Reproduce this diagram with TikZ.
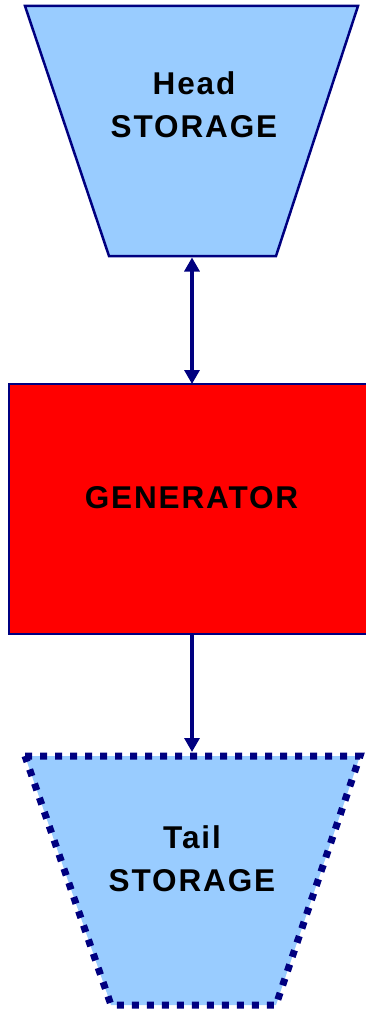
\documentclass[tikz,border=0pt]{standalone}
\usepackage{fontspec}
\usetikzlibrary{arrows.meta}
\newfontfamily\lab[LetterSpace=6]{Liberation Sans}
\definecolor{lblue}{RGB}{153,204,255}
\definecolor{navyb}{RGB}{0,0,128}
\definecolor{genred}{RGB}{255,0,0}
\tikzset{
  trap/.style={fill=lblue, draw=navyb, line width=2.5pt, line join=miter},
  trapdash/.style={fill=lblue, draw=navyb, line width=7pt, dash pattern=on 7pt off 8pt},
  genbox/.style={fill=genred, draw=navyb, line width=2.5pt, rectangle, inner sep=0pt, outer sep=0pt},
  lbl/.style={anchor=base, inner sep=0pt, font=\lab\bfseries\fontsize{31.5}{40}\selectfont, text=black},
  conn/.style={draw=navyb, line width=3.2pt}
}
\begin{document}
\begin{tikzpicture}[x=1pt,y=-1pt]
\clip (0,0) rectangle (366,1011);
% Head storage
\draw[trap] (25,6) -- (358,6) -- (276,256) -- (109,256) -- cycle;
\coordinate (hb) at (192,257.5);
\node[lbl] (headA) at (194,95) {Head};
\node[lbl] (headB) at (194,138) {STORAGE};
% Generator
\node[genbox, minimum width=366pt, minimum height=250pt] (gen) at (192,509) {};
\node[lbl] (genT) at (191.5,508) {GENERATOR};
% Tail storage
\draw[trapdash] (25,756) -- (360,756) -- (276,1005) -- (111,1005) -- cycle;
\coordinate (tt) at (192,752);
\node[lbl] (tailA) at (192,848) {Tail};
\node[lbl] (tailB) at (192,891) {STORAGE};
% connectors
\draw[conn, {Triangle[width=15pt,length=14pt]}-{Triangle[width=15pt,length=14pt]}] (hb) -- (gen.north);
\draw[conn, -{Triangle[width=15pt,length=14pt]}] (gen.south) -- (tt);
\end{tikzpicture}
\end{document}
